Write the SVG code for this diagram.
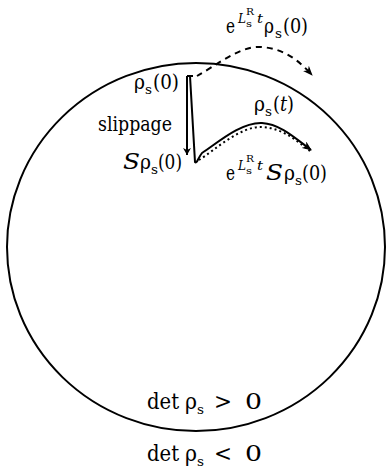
<svg xmlns="http://www.w3.org/2000/svg" width="386" height="468" viewBox="0 0 386 468">
<style>
text{font-family:"DejaVu Serif",serif;font-size:20px;fill:#000}
.i{font-style:italic}
.sub{font-size:13px}
.ss{font-size:10px}
.big{font-size:23px}
.ln{fill:none;stroke:#000;stroke-width:2}
</style>
<defs>
<marker id="ah" markerWidth="10" markerHeight="8" refX="9" refY="4" orient="auto" markerUnits="userSpaceOnUse"><path d="M0,0 L10,4 L0,8 L3,4 z" fill="#000"/></marker>
<marker id="ah2" markerWidth="8" markerHeight="10" refX="7" refY="5" orient="auto" markerUnits="userSpaceOnUse"><path d="M0,1 L7,5 L0,9 L2,5 z" fill="#000"/></marker>
</defs>
<g id="region">
<ellipse cx="196" cy="247" rx="189" ry="184" class="ln"/>
</g>
<g id="connectors">
<path d="M187,76 L193,76" class="ln" stroke-width="1.5"/>
<path d="M187,76 L187,155" class="ln" stroke-width="1.5" marker-end="url(#ah2)"/>
<path d="M190,76 L195,162 C197,164 198,158 202,153 C215,145 240,122 262,123 C280,124 295,138 311,150" class="ln" marker-end="url(#ah)"/>
<path d="M199,160 C215,150 240,126 262,127 C282,128 296,140 310,151" class="ln" stroke-dasharray="2,3"/>
<path d="M197,76 C215,66 240,46 260,47 C285,48 300,62 312,75" class="ln" stroke-dasharray="6,5" marker-end="url(#ah)"/>
</g>
<g id="label-evolved-initial">
<text x="226" y="33" textLength="9" lengthAdjust="spacingAndGlyphs">e</text>
<text x="238" y="23" class="sub i" textLength="8" lengthAdjust="spacingAndGlyphs">L</text>
<text x="246" y="27" class="ss" textLength="6" lengthAdjust="spacingAndGlyphs">s</text>
<text x="246" y="15" class="ss" textLength="8" lengthAdjust="spacingAndGlyphs">R</text>
<text x="257" y="23" class="sub i" textLength="6" lengthAdjust="spacingAndGlyphs">t</text>
<text x="264" y="33" textLength="10" lengthAdjust="spacingAndGlyphs">ρ</text>
<text x="275" y="38" class="sub" textLength="7" lengthAdjust="spacingAndGlyphs">s</text>
<text x="283" y="33" textLength="25" lengthAdjust="spacingAndGlyphs">(0)</text>
</g>
<g id="label-initial">
<text x="134" y="89" textLength="11" lengthAdjust="spacingAndGlyphs">ρ</text>
<text x="145" y="94" class="sub" textLength="7" lengthAdjust="spacingAndGlyphs">s</text>
<text x="153" y="89" textLength="26" lengthAdjust="spacingAndGlyphs">(0)</text>
</g>
<g id="label-slippage">
<text x="98" y="131" textLength="74" lengthAdjust="spacingAndGlyphs">slippage</text>
</g>
<g id="label-slipped">
<text x="123" y="169" class="i big" textLength="17" lengthAdjust="spacingAndGlyphs">S</text>
<text x="140" y="169" textLength="11" lengthAdjust="spacingAndGlyphs">ρ</text>
<text x="151" y="174" class="sub" textLength="7" lengthAdjust="spacingAndGlyphs">s</text>
<text x="158" y="169" textLength="24" lengthAdjust="spacingAndGlyphs">(0)</text>
</g>
<g id="label-rho-t">
<text x="254" y="111" textLength="11" lengthAdjust="spacingAndGlyphs">ρ</text>
<text x="265" y="116" class="sub" textLength="7" lengthAdjust="spacingAndGlyphs">s</text>
<text x="273" y="111" textLength="21" lengthAdjust="spacingAndGlyphs">(<tspan class="i">t</tspan>)</text>
</g>
<g id="label-evolved-slipped">
<text x="226" y="180" textLength="9" lengthAdjust="spacingAndGlyphs">e</text>
<text x="238" y="170" class="sub i" textLength="8" lengthAdjust="spacingAndGlyphs">L</text>
<text x="246" y="174" class="ss" textLength="6" lengthAdjust="spacingAndGlyphs">s</text>
<text x="246" y="162" class="ss" textLength="8" lengthAdjust="spacingAndGlyphs">R</text>
<text x="257" y="170" class="sub i" textLength="6" lengthAdjust="spacingAndGlyphs">t</text>
<text x="266" y="180" class="i big" textLength="17" lengthAdjust="spacingAndGlyphs">S</text>
<text x="284" y="180" textLength="11" lengthAdjust="spacingAndGlyphs">ρ</text>
<text x="295" y="185" class="sub" textLength="7" lengthAdjust="spacingAndGlyphs">s</text>
<text x="302" y="180" textLength="25" lengthAdjust="spacingAndGlyphs">(0)</text>
</g>
<g id="label-positive">
<text x="147" y="409" class="big" textLength="32" lengthAdjust="spacingAndGlyphs">det</text>
<text x="185" y="409" class="big" textLength="12" lengthAdjust="spacingAndGlyphs">ρ</text>
<text x="197" y="414" class="sub" textLength="7" lengthAdjust="spacingAndGlyphs">s</text>
<text x="214" y="409" class="big" textLength="18" lengthAdjust="spacingAndGlyphs">&gt;</text>
<text x="245" y="409" class="big" textLength="17" lengthAdjust="spacingAndGlyphs">0</text>
</g>
<g id="label-negative">
<text x="147" y="461" class="big" textLength="32" lengthAdjust="spacingAndGlyphs">det</text>
<text x="185" y="461" class="big" textLength="12" lengthAdjust="spacingAndGlyphs">ρ</text>
<text x="197" y="466" class="sub" textLength="7" lengthAdjust="spacingAndGlyphs">s</text>
<text x="214" y="461" class="big" textLength="18" lengthAdjust="spacingAndGlyphs">&lt;</text>
<text x="245" y="461" class="big" textLength="17" lengthAdjust="spacingAndGlyphs">0</text>
</g>
</svg>
